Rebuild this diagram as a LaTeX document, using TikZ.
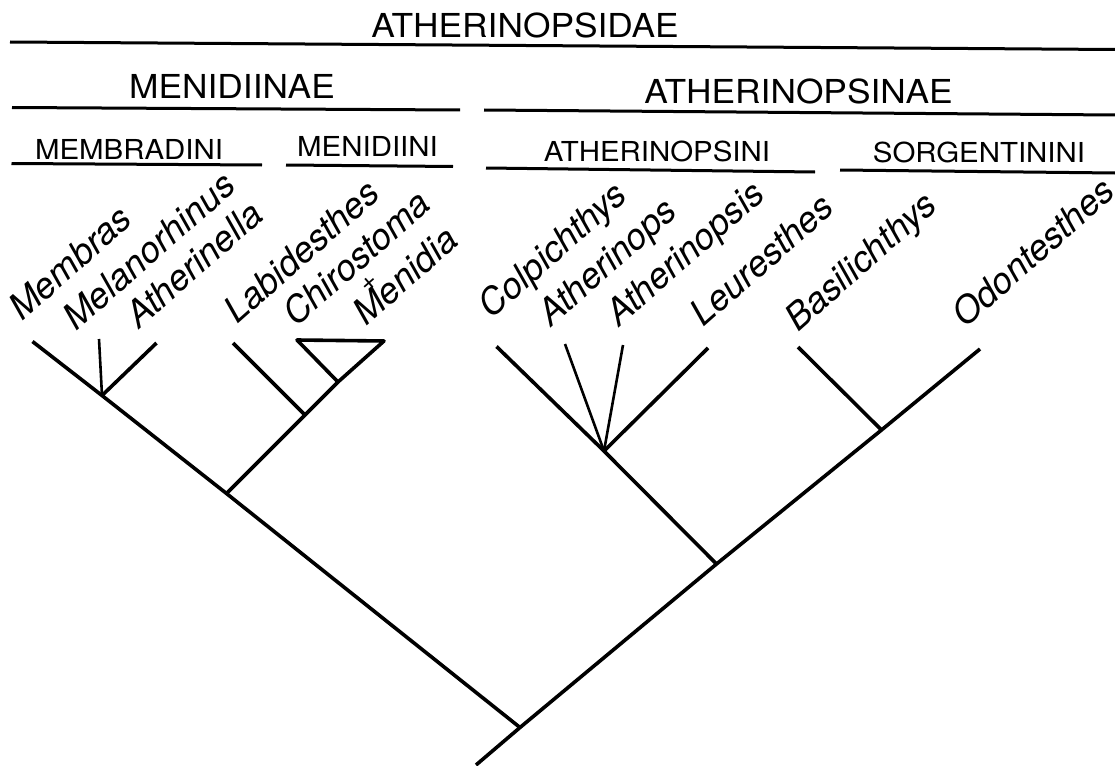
\documentclass[tikz,border=0pt]{standalone}
\usepackage{fontspec}
\setmainfont{TeX Gyre Heros}[FakeStretch=1.07]
\newfontfamily\labfont{TeX Gyre Heros}
\tikzset{
  famlabel/.style={font=\fontsize{33}{36}\selectfont, inner sep=0pt, anchor=base},
  tribelabel/.style={font=\fontsize{27.5}{30}\selectfont, inner sep=0pt, anchor=base},
  taxon/.style={font=\labfont\itshape\fontsize{36}{39}\selectfont, inner sep=0pt, anchor=base west, rotate=41.5},
  rulebar/.style={line width=3pt},
  branch/.style={line width=3.6pt, line join=round},
  thinbranch/.style={line width=2.6pt},
}
\begin{document}
\begin{tikzpicture}[x=1pt,y=-1pt]
\useasboundingbox (0,0) rectangle (1115,765);

% ---- group headings ----
\node[famlabel] (hAtd) at (525,37.3) {ATHERINOPSIDAE};
\node[famlabel] (hMen) at (232,98.3) {MENIDIINAE};
\node[famlabel] (hAtn) at (798.5,103) {ATHERINOPSINAE};
\node[tribelabel] (hMem) at (129,159.3) {MEMBRADINI};
\node[tribelabel] (hMni) at (367.5,156) {MENIDIINI};
\node[tribelabel] (hAti) at (657,161.7) {ATHERINOPSINI};
\node[tribelabel] (hSor) at (979,162) {SORGENTININI};

\draw[rulebar] (10,42) -- (1115,49.5);
\draw[rulebar] (12,107.5) -- (460,110);
\draw[rulebar] (484,110) -- (1115,115);
\draw[rulebar] (11.5,163.5) -- (262,165);
\draw[rulebar] (286,165) -- (453,166.5);
\draw[rulebar] (486,168) -- (815,172);
\draw[rulebar] (840,170) -- (1115,173);

% ---- taxon labels ----
\node[taxon] (lMembras) at (22,322) {Membras};
\node[taxon] (lMelano) at (76,332) {Melanorhinus};
\node[taxon] (lAtherinella) at (139,330) {Atherinella};
\node[taxon] (lLabid) at (237,325) {Labidesthes};
\node[taxon] (lChiro) at (296,328) {Chirostoma};
\node[font=\fontsize{26}{28}\selectfont, inner sep=0pt, rotate=41] (lPlus) at (370,284) {+};
\node[taxon] (lMenidia) at (366,327) {Menidia};
\node[taxon] (lColp) at (491.5,320) {Colpichthys};
\node[taxon] (lAtops) at (551,328) {Atherinops};
\node[taxon] (lAtopsis) at (619,328) {Atherinopsis};
\node[taxon] (lLeur) at (703.5,328) {Leuresthes};
\node[taxon] (lBasil) at (798,333) {Basilichthys};
\node[taxon] (lOdont) at (965,329) {Odontesthes};

% ---- tree coordinates ----
\coordinate (R0) at (476,765);
\coordinate (R) at (520,727.5);
\coordinate (N5) at (716.5,564);
\coordinate (N7) at (881.5,430);
\coordinate (T12) at (980,349);
\coordinate (T1) at (32.5,341.5);
\coordinate (N2) at (102,395.5);
\coordinate (N1) at (226.5,493.5);
\coordinate (T2) at (99,339);
\coordinate (T3) at (156.5,343);
\coordinate (N3) at (305,415);
\coordinate (N4) at (338,382);
\coordinate (TR) at (384,341);
\coordinate (TL) at (297,340);
\coordinate (T4) at (233,343);
\coordinate (N6) at (604,451);
\coordinate (T7) at (496.5,346.5);
\coordinate (T8) at (565,344);
\coordinate (T9) at (623,345);
\coordinate (T10) at (708,348);
\coordinate (T11) at (798,347);

% ---- tree ----
\draw[branch] (R0) -- (R) -- (N5) -- (N7) -- (T12);
\draw[branch] (T1) -- (N2) -- (N1) -- (R);
\draw[thinbranch] (T2) -- (N2);
\draw[branch] (T3) -- (N2);
\draw[branch] (N1) -- (N3) -- (N4) -- (TR) -- (TL) -- (N4);
\draw[branch] (T4) -- (N3);
\draw[branch] (N5) -- (N6) -- (T7);
\draw[thinbranch] (T8) -- (N6);
\draw[thinbranch] (T9) -- (N6);
\draw[branch] (T10) -- (N6);
\draw[branch] (T11) -- (N7);
\end{tikzpicture}
\end{document}
